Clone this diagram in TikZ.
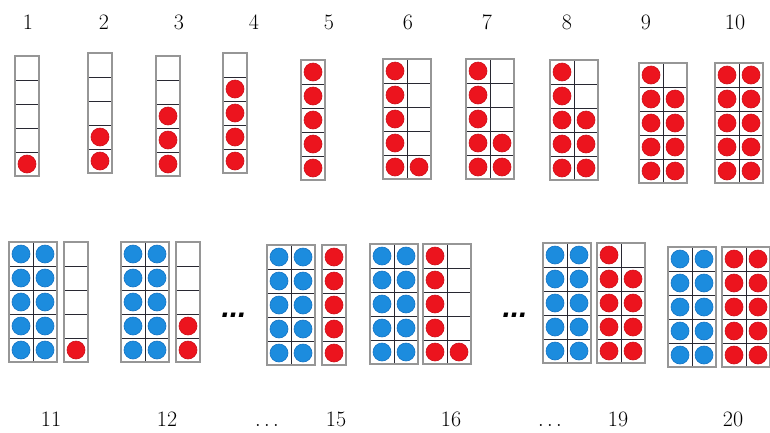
\documentclass[tikz,border=0pt]{standalone}
\usepackage{fontspec}
\newfontfamily\dotsfont{Liberation Sans}
\definecolor{redfill}{RGB}{236,20,30}
\definecolor{rededge}{RGB}{205,15,25}
\definecolor{bluefill}{RGB}{28,140,222}
\definecolor{blueedge}{RGB}{20,115,195}
\definecolor{frameouter}{RGB}{150,150,150}
\definecolor{frameinner}{RGB}{40,40,50}
\tikzset{
  outerline/.style={draw=frameouter, line width=1.5pt},
  innerline/.style={draw=frameinner, line width=0.9pt},
  dotR/.style={fill=redfill, draw=rededge, line width=0.6pt},
  dotB/.style={fill=bluefill, draw=blueedge, line width=0.6pt},
  numlabel/.style={font=\fontsize{22}{26}\selectfont, anchor=base, inner sep=0pt},
  bigdots/.style={font=\dotsfont\fontsize{30}{30}\selectfont\bfseries\itshape, anchor=base, inner sep=0pt}
}
\newcommand\TFgrid[3]{%
  \begin{scope}[shift={(#1,#2)}]
    \fill[white] (0,0) rectangle (24*#3,120);
    \foreach \rr in {1,...,4} \draw[innerline] (0,24*\rr) -- (24*#3,24*\rr);
    \ifnum#3=2 \draw[innerline] (24,0) -- (24,120);\fi
    \draw[outerline] (0,0) rectangle (24*#3,120);
  \end{scope}}
\newcommand\TFdots[4]{%
  \foreach \cc/\rr in {#4} \filldraw[dot#3] (#1+12+24*\cc, #2+12+24*\rr) circle[radius=9pt];}
\begin{document}
\begin{tikzpicture}[x=1pt,y=-1pt]
\useasboundingbox (0,0) rectangle (770,432);
% top labels
\node[numlabel] (t1) at (28,29) {1};
\node[numlabel] (t2) at (104,29) {2};
\node[numlabel] (t3) at (179,29) {3};
\node[numlabel] (t4) at (254,29) {4};
\node[numlabel] (t5) at (329,29) {5};
\node[numlabel] (t6) at (408,29) {6};
\node[numlabel] (t7) at (487,29) {7};
\node[numlabel] (t8) at (567,29) {8};
\node[numlabel] (t9) at (646,29) {9};
\node[numlabel] (t10) at (735,29) {10};
% top frames
\TFgrid{15}{56}{1}\TFdots{15}{56}{R}{0/4}
\TFgrid{88}{53}{1}\TFdots{88}{53}{R}{0/3,0/4}
\TFgrid{156}{56}{1}\TFdots{156}{56}{R}{0/2,0/3,0/4}
\TFgrid{223}{53}{1}\TFdots{223}{53}{R}{0/1,0/2,0/3,0/4}
\TFgrid{301}{60}{1}\TFdots{301}{60}{R}{0/0,0/1,0/2,0/3,0/4}
\TFgrid{383}{59}{2}\TFdots{383}{59}{R}{0/0,0/1,0/2,0/3,0/4,1/4}
\TFgrid{466}{59}{2}\TFdots{466}{59}{R}{0/0,0/1,0/2,0/3,0/4,1/3,1/4}
\TFgrid{550}{60}{2}\TFdots{550}{60}{R}{0/0,0/1,0/2,0/3,0/4,1/2,1/3,1/4}
\TFgrid{639}{63}{2}\TFdots{639}{63}{R}{0/0,0/1,0/2,0/3,0/4,1/1,1/2,1/3,1/4}
\TFgrid{715}{63}{2}\TFdots{715}{63}{R}{0/0,0/1,0/2,0/3,0/4,1/0,1/1,1/2,1/3,1/4}
% bottom frames
\TFgrid{9}{242}{2}\TFdots{9}{242}{B}{0/0,0/1,0/2,0/3,0/4,1/0,1/1,1/2,1/3,1/4}
\TFgrid{64}{242}{1}\TFdots{64}{242}{R}{0/4}
\TFgrid{121}{242}{2}\TFdots{121}{242}{B}{0/0,0/1,0/2,0/3,0/4,1/0,1/1,1/2,1/3,1/4}
\TFgrid{176}{242}{1}\TFdots{176}{242}{R}{0/3,0/4}
\node[bigdots] (d1) at (234,317) {...};
\TFgrid{267}{245}{2}\TFdots{267}{245}{B}{0/0,0/1,0/2,0/3,0/4,1/0,1/1,1/2,1/3,1/4}
\TFgrid{322}{245}{1}\TFdots{322}{245}{R}{0/0,0/1,0/2,0/3,0/4}
\TFgrid{370}{244}{2}\TFdots{370}{244}{B}{0/0,0/1,0/2,0/3,0/4,1/0,1/1,1/2,1/3,1/4}
\TFgrid{423}{244}{2}\TFdots{423}{244}{R}{0/0,0/1,0/2,0/3,0/4,1/4}
\node[bigdots] (d2) at (515,317) {...};
\TFgrid{543}{243}{2}\TFdots{543}{243}{B}{0/0,0/1,0/2,0/3,0/4,1/0,1/1,1/2,1/3,1/4}
\TFgrid{597}{243}{2}\TFdots{597}{243}{R}{0/0,0/1,0/2,0/3,0/4,1/1,1/2,1/3,1/4}
\TFgrid{668}{247}{2}\TFdots{668}{247}{B}{0/0,0/1,0/2,0/3,0/4,1/0,1/1,1/2,1/3,1/4}
\TFgrid{722}{247}{2}\TFdots{722}{247}{R}{0/0,0/1,0/2,0/3,0/4,1/0,1/1,1/2,1/3,1/4}
% bottom labels
\node[numlabel] (b11) at (51,426) {11};
\node[numlabel] (b12) at (167,426) {12};
\node[numlabel] (e1) at (267,426) {$\ldots$};
\node[numlabel] (b15) at (336,426) {15};
\node[numlabel] (b16) at (451,426) {16};
\node[numlabel] (e2) at (550,426) {$\ldots$};
\node[numlabel] (b19) at (618,426) {19};
\node[numlabel] (b20) at (733,426) {20};
\end{tikzpicture}
\end{document}
